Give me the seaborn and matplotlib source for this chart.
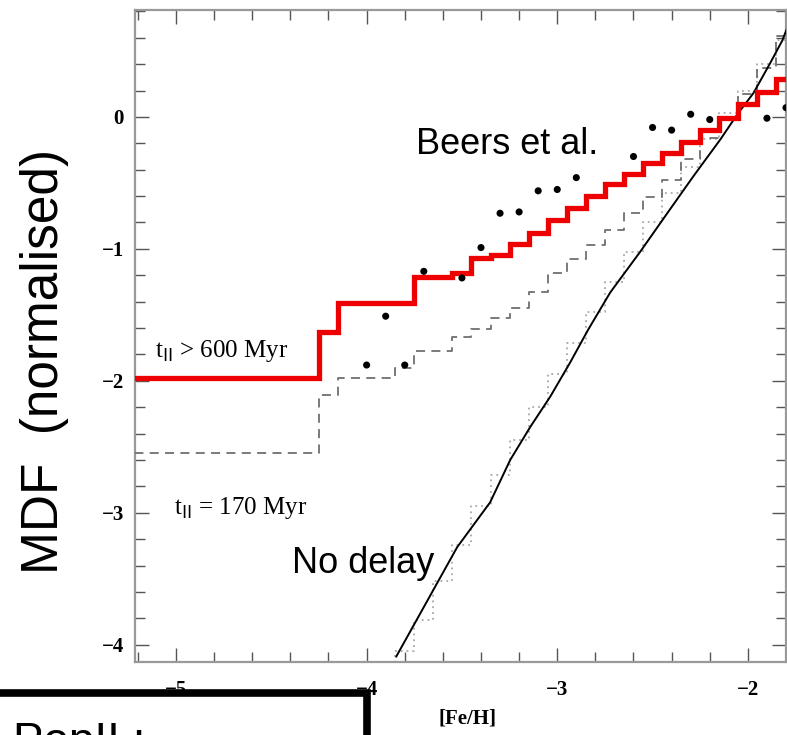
import numpy as np
import pandas as pd
import matplotlib
matplotlib.use("Agg")
import matplotlib.pyplot as plt
import seaborn as sns
from matplotlib.ticker import MultipleLocator
from matplotlib.patches import Rectangle

sns.set_theme(style="white")
plt.rcParams['font.family'] = ['Liberation Sans', 'DejaVu Sans']
plt.rcParams['text.color'] = 'black'
plt.rcParams['xtick.labelcolor'] = 'black'
plt.rcParams['ytick.labelcolor'] = 'black'

# ---- data ----
# t_II > 600 Myr model (red histogram): bin left edges and levels
red_edges = [-5.3, -4.25, -4.15, -3.75, -3.55, -3.45, -3.35, -3.25, -3.15, -3.05,
             -2.95, -2.85, -2.75, -2.65, -2.55, -2.45, -2.35, -2.25, -2.15, -2.05,
             -1.95, -1.85, -1.75]
red_levels = [-1.98, -1.63, -1.41, -1.21, -1.18, -1.07, -1.05, -0.96, -0.88, -0.78,
              -0.69, -0.60, -0.51, -0.43, -0.35, -0.27, -0.19, -0.10, -0.01, 0.10,
              0.19, 0.29, 0.29]

# t_II = 170 Myr model (grey dashed histogram)
dash_edges = [-5.3, -4.25, -4.15, -3.85, -3.75, -3.55, -3.45, -3.35, -3.25, -3.15,
              -3.05, -2.95, -2.85, -2.75, -2.65, -2.55, -2.45, -2.35, -2.25, -2.15,
              -2.05, -1.95, -1.85, -1.75]
dash_levels = [-2.55, -2.11, -1.98, -1.90, -1.77, -1.67, -1.61, -1.52, -1.45, -1.33,
               -1.18, -1.08, -0.97, -0.86, -0.73, -0.61, -0.48, -0.32, -0.16, 0.00,
               0.17, 0.37, 0.61, 0.61]

# no-delay model histogram (grey dotted)
dot_edges = [-3.95, -3.85, -3.75, -3.65, -3.55, -3.45, -3.35, -3.25, -3.15, -3.05,
             -2.95, -2.85, -2.75, -2.65, -2.55, -2.45, -2.35, -2.25, -2.15, -2.05,
             -1.95, -1.85, -1.75]
dot_levels = [-4.30, -4.05, -3.81, -3.52, -3.24, -2.95, -2.71, -2.45, -2.20, -1.95,
              -1.71, -1.48, -1.25, -1.02, -0.80, -0.58, -0.38, -0.17, 0.03, 0.20,
              0.40, 0.58, 0.58]

# no-delay analytic curve (black)
nodelay_feh = [-3.845, -3.525, -3.352, -3.247, -3.142, -3.037, -2.932, -2.837, -2.722,
               -2.564, -2.423, -2.286, -2.144, -2.055, -1.971, -1.882, -1.819, -1.787]
nodelay_mdf = [-4.09, -3.26, -2.92, -2.60, -2.35, -2.12, -1.86, -1.61, -1.33,
               -1.02, -0.73, -0.45, -0.17, 0.02, 0.18, 0.41, 0.58, 0.70]

# Beers et al. observations
beers_feh = [-4.0, -3.9, -3.8, -3.7, -3.5, -3.4, -3.3, -3.2, -3.1, -3.0, -2.9,
             -2.6, -2.5, -2.4, -2.3, -2.2, -1.9, -1.8]
beers_mdf = [-1.88, -1.51, -1.88, -1.17, -1.22, -0.99, -0.73, -0.72, -0.56, -0.55, -0.46,
             -0.30, -0.08, -0.10, 0.02, -0.02, -0.01, 0.07]

x_ticks = [-5, -4, -3, -2]
y_ticks = [0, -1, -2, -3, -4]

W, H = 787, 735
fig = plt.figure(figsize=(W / 100, H / 100), dpi=100)
ax = fig.add_axes([135 / W, (H - 662) / H, (786 - 135) / W, (662 - 10) / H])
ax.set_facecolor("white")

red_df = pd.DataFrame({"x": red_edges, "y": red_levels})
dash_df = pd.DataFrame({"x": dash_edges, "y": dash_levels})
dot_df = pd.DataFrame({"x": dot_edges, "y": dot_levels})
nd_df = pd.DataFrame({"x": nodelay_feh, "y": nodelay_mdf})
bd_df = pd.DataFrame({"x": beers_feh, "y": beers_mdf})

sns.lineplot(data=dot_df, x="x", y="y", ax=ax, drawstyle="steps-post", color="#a8a8a8",
             lw=1.3, linestyle=(0, (1, 2.2)), estimator=None, sort=False, zorder=2)
sns.lineplot(data=dash_df, x="x", y="y", ax=ax, drawstyle="steps-post", color="#6f6f6f",
             lw=1.3, linestyle=(0, (5, 3.5)), estimator=None, sort=False, zorder=3)
sns.lineplot(data=nd_df, x="x", y="y", ax=ax, color="black", lw=1.4,
             estimator=None, sort=False, zorder=4)
sns.lineplot(data=red_df, x="x", y="y", ax=ax, drawstyle="steps-post", color="#ee0000",
             lw=3.8, estimator=None, sort=False, zorder=5, solid_joinstyle="miter")
sns.scatterplot(data=bd_df, x="x", y="y", ax=ax, color="black", s=26, edgecolor="none",
                zorder=6)

ax.set_xlim(-5.215, -1.80)
ax.set_ylim(-4.13, 0.81)
ax.set_xlabel("")
ax.set_ylabel("")

ax.xaxis.set_minor_locator(MultipleLocator(0.2))
ax.yaxis.set_minor_locator(MultipleLocator(0.2))
ax.set_xticks(x_ticks)
ax.set_yticks(y_ticks)
ax.set_xticklabels(["\u2212%d" % abs(v) for v in x_ticks])
ax.set_yticklabels(["0" if v == 0 else "\u2212%d" % abs(v) for v in y_ticks])
ax.tick_params(which="both", direction="in", top=True, right=True, bottom=True, left=True,
               color="#555555", width=1.0, labelcolor="black")
ax.tick_params(which="major", length=10)
ax.tick_params(which="minor", length=7)
ax.tick_params(axis="x", which="major", pad=13)
ax.tick_params(axis="y", which="major", pad=8)
for lab in ax.get_xticklabels() + ax.get_yticklabels():
    lab.set_fontfamily("Liberation Serif")
    lab.set_fontweight("bold")
    lab.set_fontsize(15)
for sp in ax.spines.values():
    sp.set_color("#999999")
    sp.set_linewidth(1.6)

serif = "Liberation Serif"
ax.text(-5.11, -1.77, r"t$_{\rm II}$ > 600 Myr", family=serif, fontsize=18,
        va="center", ha="left", color="black")
ax.text(-5.01, -2.96, r"t$_{\rm II}$ = 170 Myr", family=serif, fontsize=18,
        va="center", ha="left", color="black")
ax.text(-3.74, -0.21, "Beers et al.", fontsize=26, va="center", ha="left", color="black")
ax.text(-4.39, -3.38, "No delay", fontsize=26, va="center", ha="left", color="black")

fig.text(468 / W, 1 - 718 / H, "[Fe/H]", family=serif, fontweight="bold", fontsize=15,
         ha="center", va="center", color="black")
fig.text(45 / W, 1 - 362 / H, "MDF  (normalised)", fontsize=37, rotation=90,
         ha="center", va="center", color="black")

# PopII box at the lower left
fig.patches.append(Rectangle((-10 / W, -0.2), (367 + 10) / W, 0.2 + (H - 693) / H,
                             transform=fig.transFigure, fill=True, facecolor="white",
                             edgecolor="black", lw=5.5, zorder=10))
fig.text(13 / W, 1 - 755 / H, "PopII :", fontsize=33, ha="left", va="baseline", zorder=11,
         color="black")

fig.savefig("out.png", dpi=100)
